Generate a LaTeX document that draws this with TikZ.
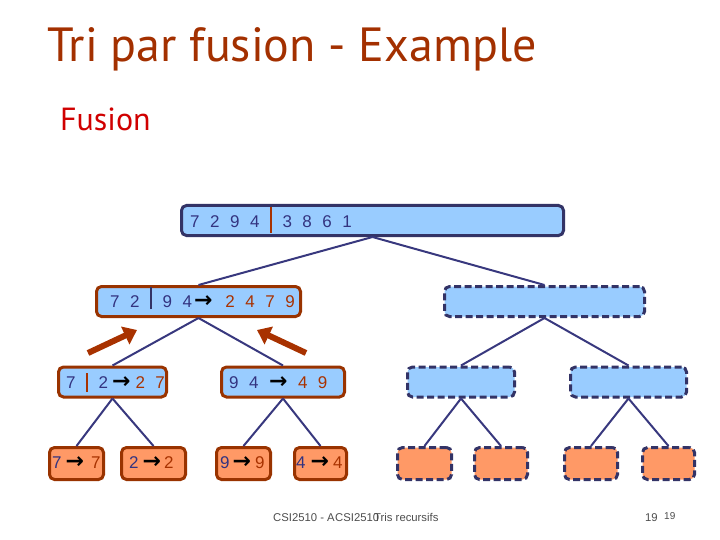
\documentclass[tikz,border=0pt]{standalone}
\usepackage{fontspec}
\setmainfont{Liberation Sans}
\newfontfamily\titre{PT Sans}
\newfontfamily\symb{DejaVu Sans}
\usetikzlibrary{arrows.meta,calc}

\definecolor{bleufond}{HTML}{99CCFF}
\definecolor{orangefond}{HTML}{FF9966}
\definecolor{bordbleu}{HTML}{333366}
\definecolor{bordrouge}{HTML}{993300}
\definecolor{chbleu}{HTML}{333380}
\definecolor{chrouge}{HTML}{A83200}
\definecolor{ligne}{HTML}{38387E}
\definecolor{couleurtitre}{HTML}{A33000}
\definecolor{couleurfusion}{HTML}{D00000}

% barre de separation : couleur, profondeur, hauteur totale
\newcommand{\barre}[3]{\textcolor{#1}{\rule[-#2]{2pt}{#3}}}
\newcommand{\fl}{{\symb\bfseries\fontsize{22}{22}\selectfont\textcolor{black}{→}}}
\newcommand{\espacement}{\setlength{\spaceskip}{10.5pt}}

\tikzset{
	boite/.style={rounded corners=5pt, line width=3pt, inner sep=0pt, minimum height=30pt},
	bleuplein/.style={boite, fill=bleufond, draw=bordrouge},
	orangeplein/.style={boite, fill=orangefond, draw=bordrouge, minimum height=32pt},
	bleuvide/.style={boite, fill=bleufond, draw=bordbleu, dash pattern=on 7pt off 3.5pt},
	orangevide/.style={bleuvide, fill=orangefond, minimum height=32pt},
	chiffres/.style={anchor=base west, inner sep=0pt, text=chbleu,
		font=\fontsize{17}{20}\selectfont, execute at begin node=\espacement},
	branche/.style={ligne, line width=2pt},
	grossefleche/.style={chrouge, line width=6pt, -{Triangle[length=13pt,width=19pt]}},
	pied/.style={anchor=base west, inner sep=0pt, text=black!70, font=\fontsize{11.3}{13}\selectfont}
}

\begin{document}
\begin{tikzpicture}[x=1pt, y=-1pt]
	\useasboundingbox (0,0) rectangle (720,540);
	
	% titres
	\node[anchor=base west, inner sep=0pt, text=couleurtitre, font=\titre\fontsize{48}{52}\selectfont] (titre) at (47,62) {Tri par fusion - Example};
	\node[anchor=base west, inner sep=0pt, text=couleurfusion, font=\titre\fontsize{32}{34}\selectfont] (fusion) at (60,131) {Fusion};
	
	% boites
	\node[boite, fill=bleufond, draw=bordbleu, minimum width=382pt] (racine) at (372.5,220.5) {};
	
	\node[bleuplein, minimum width=204pt] (ga) at (198.5,301.5) {};
	\node[bleuvide, minimum width=200pt] (dr) at (544.5,301.5) {};
	
	\node[bleuplein, minimum width=108pt] (gaga) at (112.5,382) {};
	\node[bleuplein, minimum width=123pt] (gadr) at (283,382) {};
	\node[bleuvide, minimum width=107pt] (drga) at (461,382) {};
	\node[bleuvide, minimum width=116pt] (drdr) at (628.5,382) {};
	
	\node[orangeplein, minimum width=54pt] (f1) at (76.5,463.5) {};
	\node[orangeplein, minimum width=64pt] (f2) at (153.5,463.5) {};
	\node[orangeplein, minimum width=54pt] (f3) at (243.5,463.5) {};
	\node[orangeplein, minimum width=52pt] (f4) at (320.5,463.5) {};
	\node[orangevide, minimum width=54pt] (f5) at (424.5,463.5) {};
	\node[orangevide, minimum width=53pt] (f6) at (501,463.5) {};
	\node[orangevide, minimum width=53pt] (f7) at (591,463.5) {};
	\node[orangevide, minimum width=52pt] (f8) at (668.5,463.5) {};
	
	% branches de l'arbre
	\draw[branche] (racine.south) -- (ga.north);
	\draw[branche] (racine.south) -- (dr.north);
	\foreach \p/\a/\b in {ga/gaga/gadr, dr/drga/drdr, gaga/f1/f2, gadr/f3/f4, drga/f5/f6, drdr/f7/f8} {
		\draw[branche] (\p.south) -- (\a.north);
		\draw[branche] (\p.south) -- (\b.north);}
	
	% contenus
	\node[chiffres] (tracine) at ($(racine.west)+(10,7.5)$) {7 2 9 4 \barre{chrouge}{5pt}{26pt} 3 8 6 1};
	\node[chiffres] (tga) at ($(ga.west)+(15,5.5)$) {7 2 \barre{bordbleu}{2pt}{22pt} 9 4\hspace{2pt}\fl\hspace{13pt}\textcolor{chrouge}{2 4 7 9}};
	\node[chiffres] (tgaga) at ($(gaga.west)+(9,6)$) {7 \barre{chrouge}{4pt}{19pt} 2\hspace{4pt}\fl\hspace{5pt}\textcolor{chrouge}{2 7}};
	\node[chiffres] (tgadr) at ($(gadr.west)+(9,6)$) {9 4 \fl\ \textcolor{chrouge}{4 9}};
	\node[chiffres] (tf1) at ($(f1.west)+(4,4.5)$) {7\hspace{4pt}\fl\hspace{7pt}\textcolor{chrouge}{7}};
	\node[chiffres] (tf2) at ($(f2.west)+(9,4.5)$) {2\hspace{4pt}\fl\hspace{3pt}\textcolor{chrouge}{2}};
	\node[chiffres] (tf3) at ($(f3.west)+(5,4.5)$) {9\hspace{3pt}\fl\hspace{4pt}\textcolor{chrouge}{9}};
	\node[chiffres] (tf4) at ($(f4.west)+(3,4.5)$) {4\hspace{5pt}\fl\hspace{4pt}\textcolor{chrouge}{4}};
	
	% grosses fleches
	\coordinate (fga1) at (88,353);
	\coordinate (fga2) at (137,330);
	\coordinate (fdr1) at (306,353);
	\coordinate (fdr2) at (257,330);
	\draw[grossefleche] (fga1) -- (fga2);
	\draw[grossefleche] (fdr1) -- (fdr2);
	
	% pied de page
	\node[pied] (pied1) at (273,521) {CSI2510 - A};
	\node[pied] (pied2) at (335,521) {CSI2510};
	\node[pied] (pied3) at (374,521) {Tris recursifs};
	\node[pied] (num1) at (645,521) {19};
	\node[pied, font=\fontsize{10}{12}\selectfont] (num2) at (664,519) {19};
\end{tikzpicture}
\end{document}
